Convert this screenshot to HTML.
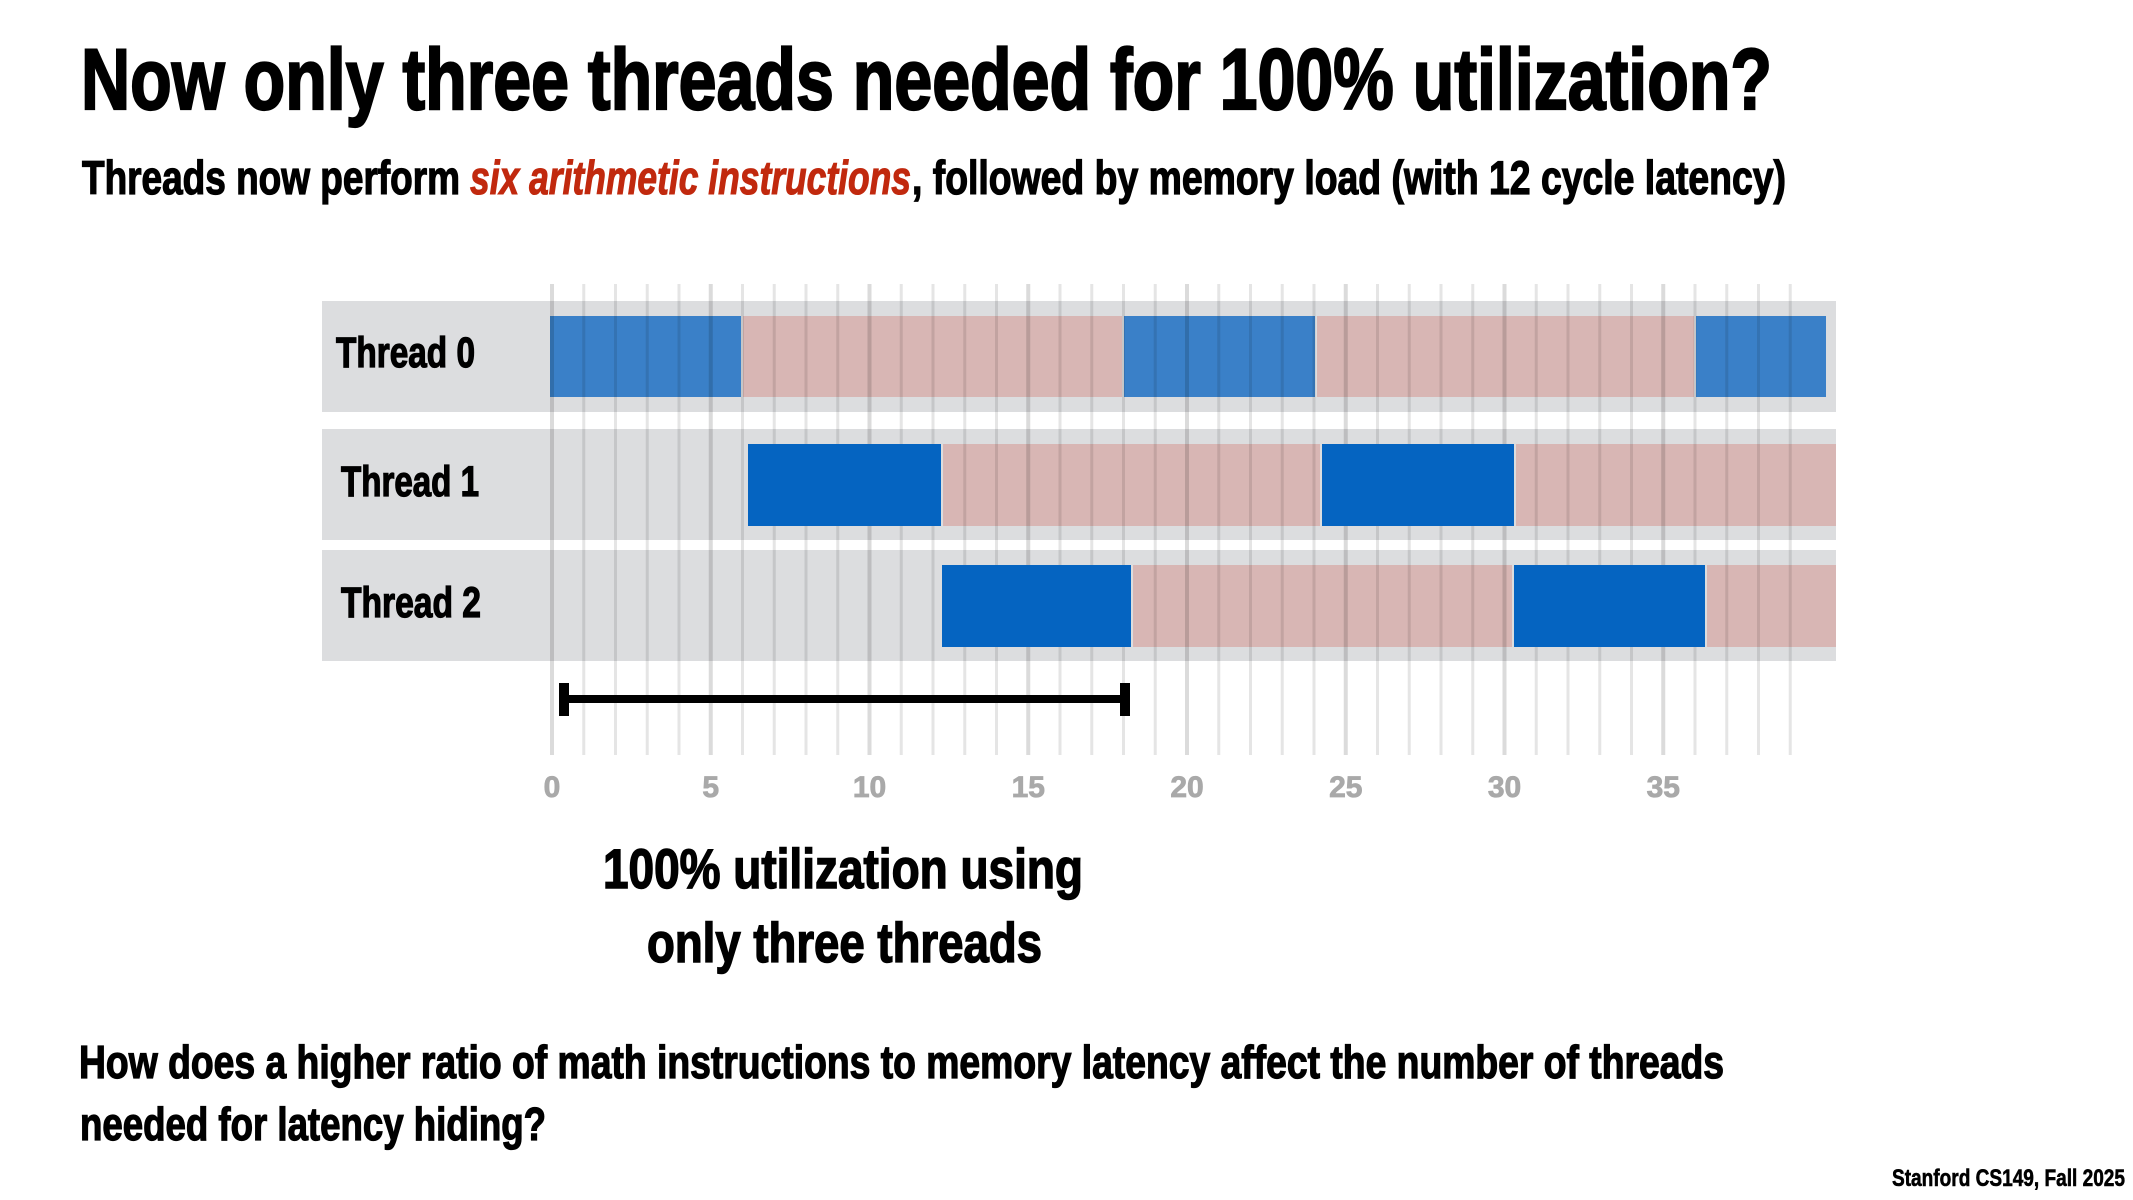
<!DOCTYPE html>
<html>
<head>
<meta charset="utf-8">
<style>
html,body{margin:0;padding:0;background:#fff;}
svg{display:block;}
text{font-family:"Liberation Sans Narrow","Liberation Sans",sans-serif;font-weight:bold;}
</style>
</head>
<body>
<svg width="2133" height="1200" viewBox="0 0 2133 1200" xmlns="http://www.w3.org/2000/svg">
<rect width="2133" height="1200" fill="#fff"/>
<!-- Title -->
<text x="81" y="109" font-size="86" fill="#000" stroke="#000" stroke-width="2.2" textLength="1691" lengthAdjust="spacingAndGlyphs">Now only three threads needed for 100% utilization?</text>
<!-- Subtitle -->
<text x="82" y="194" font-size="47" fill="#000" stroke="#000" stroke-width="1.3" textLength="378" lengthAdjust="spacingAndGlyphs">Threads now perform</text>
<text x="470" y="194" font-size="47" fill="#c1290e" stroke="#c1290e" stroke-width="1.1" font-style="italic" textLength="441" lengthAdjust="spacingAndGlyphs">six arithmetic instructions</text>
<text x="912" y="194" font-size="47" fill="#000" stroke="#000" stroke-width="1.3" textLength="874" lengthAdjust="spacingAndGlyphs">, followed by memory load (with 12 cycle latency)</text>

<!-- Row backgrounds -->
<rect x="322" y="301" width="1514" height="111" fill="#dcdddf"/>
<rect x="322" y="429" width="1514" height="111" fill="#dcdddf"/>
<rect x="322" y="550" width="1514" height="111" fill="#dcdddf"/>

<!-- Pink (memory latency) segments -->
<g fill="#d8b6b4">
<rect x="743" y="316" width="379" height="81"/>
<rect x="1317" y="316" width="377" height="81"/>
<rect x="943" y="444" width="377" height="82"/>
<rect x="1516" y="444" width="320" height="82"/>
<rect x="1133" y="565" width="379" height="82"/>
<rect x="1707" y="565" width="129" height="82"/>
</g>
<!-- Thread 0 blue (under gridlines) -->
<g fill="#3a80c8">
<rect x="550" y="316" width="191" height="81"/>
<rect x="1124" y="316" width="191" height="81"/>
<rect x="1696" y="316" width="130" height="81"/>
</g>

<!-- Gridlines -->
<g>
<line x1="552" y1="284" x2="552" y2="755" stroke="rgba(0,0,0,0.14)" stroke-width="4"/>
<line x1="583.75" y1="284" x2="583.75" y2="755" stroke="rgba(0,0,0,0.1)" stroke-width="3"/>
<line x1="615.5" y1="284" x2="615.5" y2="755" stroke="rgba(0,0,0,0.1)" stroke-width="3"/>
<line x1="647.25" y1="284" x2="647.25" y2="755" stroke="rgba(0,0,0,0.1)" stroke-width="3"/>
<line x1="679" y1="284" x2="679" y2="755" stroke="rgba(0,0,0,0.1)" stroke-width="3"/>
<line x1="710.75" y1="284" x2="710.75" y2="755" stroke="rgba(0,0,0,0.14)" stroke-width="4"/>
<line x1="742.5" y1="284" x2="742.5" y2="755" stroke="rgba(0,0,0,0.1)" stroke-width="3"/>
<line x1="774.25" y1="284" x2="774.25" y2="755" stroke="rgba(0,0,0,0.1)" stroke-width="3"/>
<line x1="806" y1="284" x2="806" y2="755" stroke="rgba(0,0,0,0.1)" stroke-width="3"/>
<line x1="837.75" y1="284" x2="837.75" y2="755" stroke="rgba(0,0,0,0.1)" stroke-width="3"/>
<line x1="869.5" y1="284" x2="869.5" y2="755" stroke="rgba(0,0,0,0.14)" stroke-width="4"/>
<line x1="901.25" y1="284" x2="901.25" y2="755" stroke="rgba(0,0,0,0.1)" stroke-width="3"/>
<line x1="933" y1="284" x2="933" y2="755" stroke="rgba(0,0,0,0.1)" stroke-width="3"/>
<line x1="964.75" y1="284" x2="964.75" y2="755" stroke="rgba(0,0,0,0.1)" stroke-width="3"/>
<line x1="996.5" y1="284" x2="996.5" y2="755" stroke="rgba(0,0,0,0.1)" stroke-width="3"/>
<line x1="1028.25" y1="284" x2="1028.25" y2="755" stroke="rgba(0,0,0,0.14)" stroke-width="4"/>
<line x1="1060" y1="284" x2="1060" y2="755" stroke="rgba(0,0,0,0.1)" stroke-width="3"/>
<line x1="1091.75" y1="284" x2="1091.75" y2="755" stroke="rgba(0,0,0,0.1)" stroke-width="3"/>
<line x1="1123.5" y1="284" x2="1123.5" y2="755" stroke="rgba(0,0,0,0.1)" stroke-width="3"/>
<line x1="1155.25" y1="284" x2="1155.25" y2="755" stroke="rgba(0,0,0,0.1)" stroke-width="3"/>
<line x1="1187" y1="284" x2="1187" y2="755" stroke="rgba(0,0,0,0.14)" stroke-width="4"/>
<line x1="1218.75" y1="284" x2="1218.75" y2="755" stroke="rgba(0,0,0,0.1)" stroke-width="3"/>
<line x1="1250.5" y1="284" x2="1250.5" y2="755" stroke="rgba(0,0,0,0.1)" stroke-width="3"/>
<line x1="1282.25" y1="284" x2="1282.25" y2="755" stroke="rgba(0,0,0,0.1)" stroke-width="3"/>
<line x1="1314" y1="284" x2="1314" y2="755" stroke="rgba(0,0,0,0.1)" stroke-width="3"/>
<line x1="1345.75" y1="284" x2="1345.75" y2="755" stroke="rgba(0,0,0,0.14)" stroke-width="4"/>
<line x1="1377.5" y1="284" x2="1377.5" y2="755" stroke="rgba(0,0,0,0.1)" stroke-width="3"/>
<line x1="1409.25" y1="284" x2="1409.25" y2="755" stroke="rgba(0,0,0,0.1)" stroke-width="3"/>
<line x1="1441" y1="284" x2="1441" y2="755" stroke="rgba(0,0,0,0.1)" stroke-width="3"/>
<line x1="1472.75" y1="284" x2="1472.75" y2="755" stroke="rgba(0,0,0,0.1)" stroke-width="3"/>
<line x1="1504.5" y1="284" x2="1504.5" y2="755" stroke="rgba(0,0,0,0.14)" stroke-width="4"/>
<line x1="1536.25" y1="284" x2="1536.25" y2="755" stroke="rgba(0,0,0,0.1)" stroke-width="3"/>
<line x1="1568" y1="284" x2="1568" y2="755" stroke="rgba(0,0,0,0.1)" stroke-width="3"/>
<line x1="1599.75" y1="284" x2="1599.75" y2="755" stroke="rgba(0,0,0,0.1)" stroke-width="3"/>
<line x1="1631.5" y1="284" x2="1631.5" y2="755" stroke="rgba(0,0,0,0.1)" stroke-width="3"/>
<line x1="1663.25" y1="284" x2="1663.25" y2="755" stroke="rgba(0,0,0,0.14)" stroke-width="4"/>
<line x1="1695" y1="284" x2="1695" y2="755" stroke="rgba(0,0,0,0.1)" stroke-width="3"/>
<line x1="1726.75" y1="284" x2="1726.75" y2="755" stroke="rgba(0,0,0,0.1)" stroke-width="3"/>
<line x1="1758.5" y1="284" x2="1758.5" y2="755" stroke="rgba(0,0,0,0.1)" stroke-width="3"/>
<line x1="1790.25" y1="284" x2="1790.25" y2="755" stroke="rgba(0,0,0,0.1)" stroke-width="3"/>
</g>

<!-- Thread 1/2 blue (over gridlines) -->
<g fill="#0564c1">
<rect x="748" y="444" width="193" height="82"/>
<rect x="1322" y="444" width="192" height="82"/>
<rect x="942" y="565" width="189" height="82"/>
<rect x="1514" y="565" width="191" height="82"/>
</g>

<!-- Thread labels -->
<g stroke="#000" stroke-width="1.3">
<text x="336" y="367" font-size="43" fill="#000" textLength="139" lengthAdjust="spacingAndGlyphs">Thread 0</text>
<text x="341" y="496" font-size="43" fill="#000" textLength="138" lengthAdjust="spacingAndGlyphs">Thread 1</text>
<text x="341" y="617" font-size="43" fill="#000" textLength="140" lengthAdjust="spacingAndGlyphs">Thread 2</text>
</g>

<!-- Scale bar -->
<rect x="564" y="695" width="560" height="8" fill="#000"/>
<rect x="559" y="683" width="10" height="33" fill="#000"/>
<rect x="1120" y="683" width="10" height="33" fill="#000"/>

<!-- Tick labels -->
<g font-size="30" fill="#a9a9a9" stroke="#a9a9a9" stroke-width="0.8" text-anchor="middle">
<text x="552" y="797">0</text>
<text x="710.75" y="797">5</text>
<text x="869.5" y="797">10</text>
<text x="1028.25" y="797">15</text>
<text x="1187" y="797">20</text>
<text x="1345.75" y="797">25</text>
<text x="1504.5" y="797">30</text>
<text x="1663.25" y="797">35</text>
</g>

<!-- Annotation -->
<g stroke="#000" stroke-width="1.5">
<text x="603" y="888" font-size="56" fill="#000" textLength="480" lengthAdjust="spacingAndGlyphs">100% utilization using</text>
<text x="647" y="962" font-size="56" fill="#000" textLength="395" lengthAdjust="spacingAndGlyphs">only three threads</text>
</g>

<!-- Bottom question -->
<g stroke="#000" stroke-width="1.3">
<text x="79" y="1078" font-size="46" fill="#000" textLength="1645" lengthAdjust="spacingAndGlyphs">How does a higher ratio of math instructions to memory latency affect the number of threads</text>
<text x="80" y="1140" font-size="46" fill="#000" textLength="466" lengthAdjust="spacingAndGlyphs">needed for latency hiding?</text>
</g>

<!-- Footer -->
<text x="1892" y="1186" font-size="24" fill="#000" stroke="#000" stroke-width="0.6" textLength="233" lengthAdjust="spacingAndGlyphs">Stanford CS149, Fall 2025</text>
</svg>
</body>
</html>
